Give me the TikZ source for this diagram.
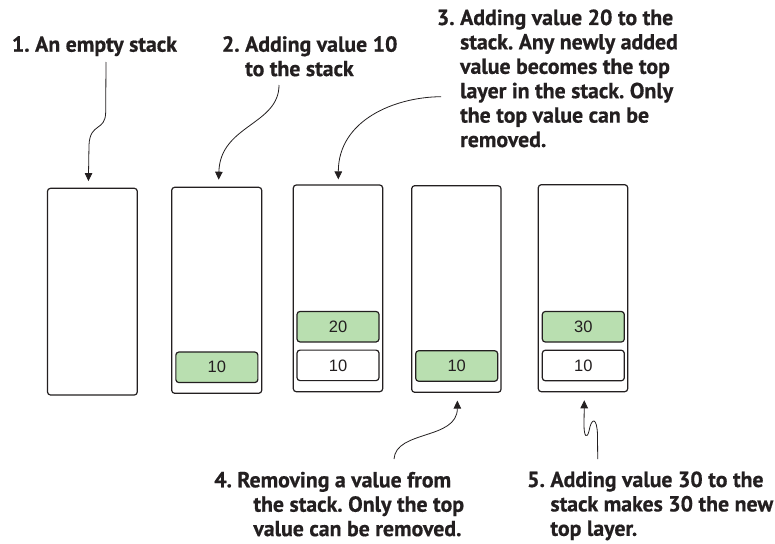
\documentclass[tikz,border=0pt]{standalone}
\usepackage{fontspec}
\usetikzlibrary{arrows.meta,calc}
\newfontfamily\lblfamily[FakeBold=0.6]{PT Sans}
\newfontfamily\numfamily{Liberation Sans}
\definecolor{ink}{HTML}{231F20}
\definecolor{cellgreen}{HTML}{B9DFB0}
\frenchspacing
\newcommand{\lbltxt}[2]{\begin{tabular}[t]{@{}l@{\ }l@{}}#1&#2\end{tabular}}
\tikzset{
  stackbox/.style={draw=ink,line width=1.2pt,rounded corners=3pt,fill=white,inner sep=0pt},
  cell/.style={draw=ink,line width=1.2pt,rounded corners=3pt,inner sep=0pt,
    minimum width=82pt,minimum height=30.5pt,font=\numfamily\fontsize{16.5}{19}\selectfont,text=ink},
  topcell/.style={cell,fill=cellgreen},
  lowcell/.style={cell,fill=white},
  lbl/.style={anchor=base west,inner sep=0pt,text=ink,
    font=\lblfamily\bfseries\fontsize{21.8}{24.4}\selectfont},
  arr/.style={draw=ink,line width=0.8pt,-{Triangle[width=7.5pt,length=8pt]}}
}
\begin{document}
\begin{tikzpicture}[x=1pt,y=-1pt]
\path[fill=white,use as bounding box] (0,0) rectangle (775,543);
% stacks
\node[stackbox,minimum width=89.8pt,minimum height=206.7pt] (s1) at (92.4,291.65) {};
\node[stackbox,minimum width=90pt,minimum height=206pt] (s2) at (216.7,290.3) {};
\node[stackbox,minimum width=89.4pt,minimum height=206.7pt] (s3) at (338,288.35) {};
\node[stackbox,minimum width=89.3pt,minimum height=206.6pt] (s4) at (456.35,289) {};
\node[stackbox,minimum width=89.4pt,minimum height=207pt] (s5) at (583,288.2) {};
% cells
\node[topcell] (c2a) at (216.85,367.3) {10};
\node[topcell] (c3b) at (338,326.7) {20};
\node[lowcell] (c3a) at (338,365.35) {10};
\node[topcell] (c4a) at (456.7,366) {10};
\node[topcell] (c5b) at (583.3,326.75) {30};
\node[lowcell] (c5a) at (583.3,365.5) {10};
% labels
\node[lbl] (l1) at (11.7,51.7) {\lbltxt{1.}{An empty stack}};
\node[lbl] (l2) at (221.7,51.7) {\lbltxt{2.}{Adding value 10\\ & to the stack}};
\node[lbl] (l3) at (436.7,25) {\lbltxt{3.}{Adding value 20 to the\\ & stack. Any newly added\\ & value becomes the top\\ & layer in the stack. Only\\ & the top value can be\\ & removed.}};
\node[lbl] (l4) at (214,487.3) {\lbltxt{4.}{Removing a value from\\ & \hspace*{16pt}the stack. Only the top\\ & \hspace*{16pt}value can be removed.}};
\node[lbl] (l5) at (527,487) {\lbltxt{5.}{Adding value 30 to the\\ & stack makes 30 the new\\ & top layer.}};
% arrow start points
\coordinate (a1) at (106,62);
\coordinate (a2) at (279,85);
\coordinate (a3) at (441,96.7);
\coordinate (a4) at (394,459);
\coordinate (a5) at (597.7,459);
% arrows
\draw[arr] (a1) -- (105.7,112) .. controls (105.5,132) and (90,122) .. (89,145) -- ($(s1.north)+(-4,-6.6)$);
\draw[arr] (a2) .. controls (279,125) and (220,125) .. ($(s2.north)+(2,-7)$);
\draw[arr] (a3) .. controls (395,97) and (338.3,120) .. ($(s3.north)+(0.3,-5)$);
\draw[arr] (a4) .. controls (396,430) and (457.3,440) .. ($(s4.south)+(1,7.7)$);
\draw[arr] (a5) -- (597.5,435) .. controls (597,417) and (591.5,417) .. (589,431) .. controls (587,439) and (584,437) .. (584,425) -- ($(s5.south)+(1.3,8)$);
\end{tikzpicture}
\end{document}
